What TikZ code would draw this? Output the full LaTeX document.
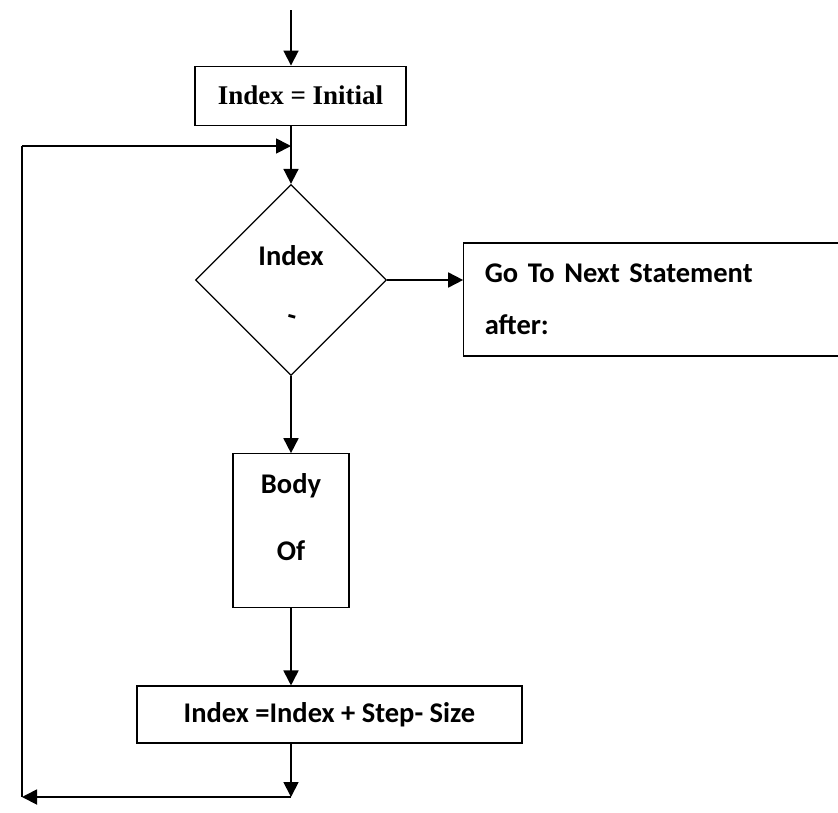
\documentclass[tikz,border=0pt]{standalone}
\usepackage{fontspec}
\newfontfamily\calibri{Carlito}
\newfontfamily\tnr{Liberation Serif}
\usetikzlibrary{arrows.meta,positioning,shapes.geometric}

\begin{document}
\begin{tikzpicture}[
  x=1pt, y=-1pt,
  box/.style={draw,line width=1.3pt,inner sep=0pt,font=\calibri\bfseries\fontsize{28.5}{35}\selectfont},
  decide/.style={draw,diamond,aspect=1,line width=1.3pt,inner sep=0pt,minimum width=191pt,minimum height=191pt},
  txt/.style={inner sep=0pt,font=\calibri\bfseries\fontsize{28.5}{35}\selectfont},
  arrow/.style={-{Triangle[length=15pt,width=15pt]},line width=1.8pt},
  link/.style={line width=1.8pt}
]
\useasboundingbox (0,0) rectangle (838,812);
\node[decide] (test) at (291,280) {};
\node[txt, anchor=base, yshift=15pt] (cond) at (test) {Index};
\node[txt, yshift=-40pt, rotate=-15] (condend) at (test) {-};
\node[box,minimum width=211pt,minimum height=59pt,font=\tnr\bfseries\fontsize{27}{32}\selectfont,
  above=58pt of test, xshift=9.5pt] (init) {Index = Initial};
\node[box,minimum width=384pt,minimum height=113pt,text width=342pt,inner xsep=21pt,align=left,
  right=76pt of test, yshift=-19.5pt] (next) {Go To Next Statement\\[17pt]after:};
\node[box,minimum width=116pt,minimum height=154pt, below=77pt of test] (body) {};
\node[txt, anchor=base, yshift=37pt] (bodyhead) at (body) {Body};
\node[txt, anchor=base, yshift=-30pt] (bodytail) at (body) {Of};
\node[box,minimum width=385pt,minimum height=57pt, below=77pt of body, xshift=38.5pt] (incr) {Index =Index + Step- Size};

% loop corners
\coordinate (entry) at (291,10);
\coordinate (join) at (291,146);
\coordinate (exit) at (291,797);
\coordinate (loopbot) at (22,797);
\coordinate (looptop) at (22,146);

\draw[arrow] (entry) -- (entry |- init.north);
\draw[arrow] (init.south -| test.north) -- (test.north);
\draw[arrow] (test.east) -- (test.east -| next.west);
\draw[arrow] (test) -- (body);
\draw[arrow] (body.south) -- (body.south |- incr.north);
\draw[arrow] (incr.south -| exit) -- (exit);
\draw[arrow] (exit) -- (loopbot);
\draw[link] (loopbot) -- (looptop);
\draw[arrow] (looptop) -- (join);
\end{tikzpicture}
\end{document}
